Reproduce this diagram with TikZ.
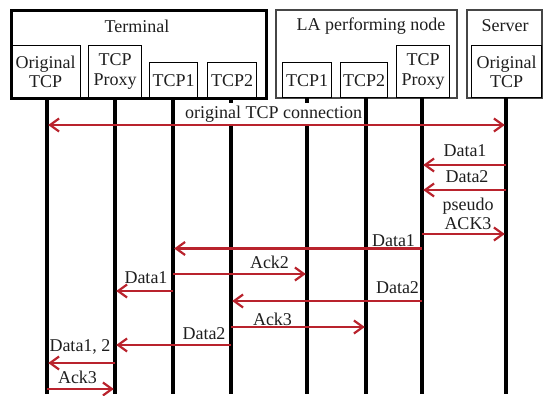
\documentclass[tikz,border=0pt]{standalone}
\usepackage{fontspec}
\setmainfont{Liberation Serif}
\newfontfamily\serifx{Liberation Serif}
\usetikzlibrary{arrows.meta}
\definecolor{arr}{RGB}{185,35,45}
\definecolor{ink}{RGB}{30,30,30}
\definecolor{frame}{RGB}{70,70,70}
\begin{document}
\begin{tikzpicture}[x=1pt,y=-1pt,
  txt/.style={font=\serifx\fontsize{18}{19.5}\selectfont, text=ink, inner sep=0pt},
  outerbox/.style={draw=black, line width=2.6pt, anchor=north west, inner sep=0pt},
  outerboxg/.style={draw=frame, line width=1.6pt, anchor=north west, inner sep=0pt},
  inbox/.style={draw=black, line width=1.3pt, anchor=north west, inner sep=0pt, align=center,
    font=\serifx\fontsize{18}{19.5}\selectfont, text=ink},
  life/.style={line width=3.5pt, black},
  msg/.style={draw=arr, line width=2.2pt, -{Straight Barb[length=9pt,width=13pt]}, shorten >=1.2pt},
  msgboth/.style={draw=arr, line width=2.2pt, {Straight Barb[length=9pt,width=13pt]}-{Straight Barb[length=9pt,width=13pt]}, shorten >=1.2pt, shorten <=1.2pt},
  lbl/.style={txt, anchor=base}]
\useasboundingbox (0,0) rectangle (544,396);

% outer boxes
\node[outerbox, minimum width=255pt, minimum height=88pt] (term) at (10,9) {};
\node[outerboxg, minimum width=181pt, minimum height=88pt] (la) at (275,9) {};
\node[outerboxg, minimum width=75pt, minimum height=88pt] (srv) at (466,9) {};
\node[txt] (termlbl) at (137,26) {Terminal};
\node[txt] (lalbl) at (371,26) {LA performing node};
\node[txt] (srvlbl) at (505,26) {Server};

% inner boxes
\node[inbox, minimum width=70pt, minimum height=52pt] (tot) at (10,45) {Original\\TCP};
\node[inbox, minimum width=53pt, minimum height=52pt] (tpx) at (88,45) {TCP\\Proxy};
\node[inbox, minimum width=48pt, minimum height=35pt] (t1) at (149,62) {TCP1};
\node[inbox, minimum width=49pt, minimum height=35pt] (t2) at (207,62) {TCP2};
\node[inbox, minimum width=49pt, minimum height=35pt] (l1) at (282,62) {TCP1};
\node[inbox, minimum width=47pt, minimum height=35pt] (l2) at (340,62) {TCP2};
\node[inbox, minimum width=53pt, minimum height=52pt] (lpx) at (396,45) {TCP\\Proxy};
\node[inbox, minimum width=70pt, minimum height=52pt] (sot) at (471,45) {Original\\TCP};

% lifeline ends
\coordinate (e1) at (47,394);
\coordinate (e2) at (115,394);
\coordinate (e3) at (173,394);
\coordinate (e4) at (231,394);
\coordinate (e5) at (307,394);
\coordinate (e6) at (366,394);
\coordinate (e7) at (422,394);
\coordinate (e8) at (506,394);
\draw[life] (tot.south -| e1) -- (e1);
\draw[life] (tpx.south -| e2) -- (e2);
\draw[life] (t1.south -| e3) -- (e3);
\draw[life] (t2.south -| e4) -- (e4);
\draw[life] (l1.south -| e5) -- (e5);
\draw[life] (l2.south -| e6) -- (e6);
\draw[life] (lpx.south -| e7) -- (e7);
\draw[life] (sot.south -| e8) -- (e8);

% rows
\coordinate (r1) at (0,125);
\coordinate (r2) at (0,165);
\coordinate (r3) at (0,190);
\coordinate (r4) at (0,234);
\coordinate (r5) at (0,248.5);
\coordinate (r6) at (0,274);
\coordinate (r7) at (0,291);
\coordinate (r8) at (0,301);
\coordinate (r9) at (0,327);
\coordinate (r10) at (0,345);
\coordinate (r11) at (0,363);
\coordinate (r12) at (0,389);

% label with white background
\node[lbl, fill=white, inner xsep=0.3pt, inner ysep=2.5pt] (conn) at (273.5,118) {original TCP connection};

% messages
\draw[msgboth] (e1 |- r1) -- (e8 |- r1);
\draw[msg] (e8 |- r2) -- (e7 |- r2);
\draw[msg] (e8 |- r3) -- (e7 |- r3);
\draw[msg] (e7 |- r4) -- (e8 |- r4);
\draw[msg] (e7 |- r5) -- (e3 |- r5);
\draw[msg] (e3 |- r6) -- (e5 |- r6);
\draw[msg] (e3 |- r7) -- (e2 |- r7);
\draw[msg] (e7 |- r8) -- (e4 |- r8);
\draw[msg] (e4 |- r9) -- (e6 |- r9);
\draw[msg] (e4 |- r10) -- (e2 |- r10);
\draw[msg] (e2 |- r11) -- (e1 |- r11);
\draw[msg] (e1 |- r12) -- (e2 |- r12);

% message labels
\node[lbl] (m2) at (465,157) {Data1};
\node[lbl] (m3) at (467,182) {Data2};
\node[lbl] (m4a) at (468,210) {pseudo};
\node[lbl] (m4b) at (468,229) {ACK3};
\node[lbl] (m5) at (393.5,246) {Data1};
\node[lbl] (m6) at (269.5,268) {Ack2};
\node[lbl] (m7) at (146,283) {Data1};
\node[lbl] (m8) at (397.5,293) {Data2};
\node[lbl] (m9) at (272.5,325) {Ack3};
\node[lbl] (m10) at (204,339) {Data2};
\node[lbl] (m11) at (80,351) {Data1, 2};
\node[lbl] (m12) at (77.5,383) {Ack3};
\end{tikzpicture}
\end{document}
